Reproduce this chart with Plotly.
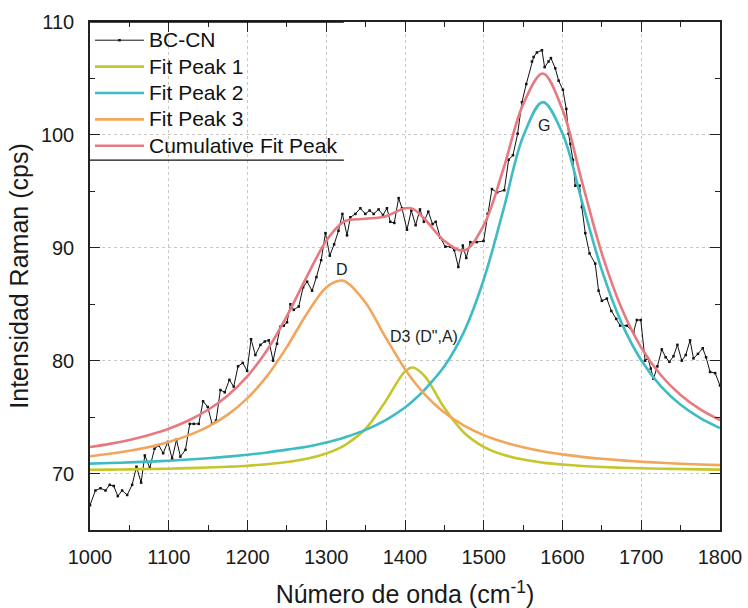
import plotly.graph_objects as go

# ---- Measured Raman spectrum of BC-CN ----
wavenumber = [1000.0, 1006.9, 1013.3, 1019.7, 1025.0, 1030.2, 1035.3, 1040.8, 1047.2, 1053.5,
              1059.0, 1064.9, 1069.6, 1075.9, 1081.9, 1087.4, 1092.9, 1098.8, 1104.3, 1109.8,
              1114.8, 1121.2, 1126.7, 1131.8, 1138.1, 1143.6, 1149.5, 1155.0, 1160.1, 1165.6,
              1171.1, 1177.0, 1182.5, 1188.0, 1194.0, 1199.5, 1204.5, 1210.0, 1216.4, 1221.9,
              1227.0, 1232.5, 1237.5, 1241.8, 1246.0, 1250.2, 1254.5, 1258.7, 1265.1, 1270.6,
              1275.7, 1282.0, 1287.5, 1293.5, 1299.0, 1304.5, 1310.0, 1315.5, 1320.5, 1326.4,
              1330.6, 1337.0, 1343.3, 1349.6, 1355.1, 1360.2, 1366.5, 1372.0, 1377.1, 1381.3,
              1386.4, 1391.9, 1396.2, 1402.5, 1408.0, 1413.5, 1419.0, 1424.0, 1429.6, 1435.0,
              1439.0, 1444.8, 1451.2, 1457.5, 1462.6, 1467.7, 1473.4, 1477.8, 1482.9, 1491.0,
              1499.8, 1504.9, 1510.4, 1516.8, 1526.1, 1531.6, 1537.1, 1543.0, 1548.5, 1554.0,
              1561.2, 1563.3, 1567.5, 1573.9, 1577.3, 1582.3, 1585.3, 1590.8, 1595.1, 1600.5,
              1604.8, 1607.7, 1610.0, 1613.2, 1616.2, 1621.7, 1624.6, 1628.9, 1634.3, 1641.5,
              1645.8, 1650.0, 1656.3, 1662.0, 1668.2, 1673.2, 1681.7, 1690.1, 1694.4, 1699.4,
              1704.9, 1708.5, 1712.1, 1715.5, 1720.5, 1726.1, 1731.0, 1735.8, 1741.0, 1745.9,
              1751.5, 1756.5, 1762.0, 1766.3, 1772.0, 1778.1, 1782.3, 1787.4, 1793.8, 1800.0]
intensity = [67.2, 68.5, 68.7, 68.5, 69.0, 68.9, 68.0, 68.5, 68.1, 69.0,
             70.6, 69.2, 71.6, 70.5, 72.2, 72.5, 71.8, 72.8, 71.3, 73.0,
             71.5, 72.1, 74.4, 74.4, 74.4, 76.4, 75.9, 74.4, 74.7, 77.4,
             77.2, 78.3, 77.7, 79.5, 79.8, 79.1, 81.9, 80.5, 81.4, 81.7,
             81.8, 80.0, 81.5, 83.0, 83.1, 83.4, 85.0, 84.5, 84.8, 86.5,
             87.0, 86.2, 87.4, 88.9, 91.3, 89.3, 90.3, 91.5, 93.0, 91.1,
             92.7, 93.0, 93.5, 93.0, 93.3, 93.0, 93.4, 92.9, 93.5, 92.3,
             92.2, 94.4, 93.5, 91.6, 93.3, 92.0, 93.4, 92.3, 93.2, 92.1,
             92.3, 90.9, 90.1, 90.1, 89.8, 88.3, 90.2, 89.1, 90.5, 90.5,
             90.6, 93.0, 95.2, 94.9, 95.1, 97.8, 98.2, 100.1, 102.9, 104.5,
             106.5, 106.9, 107.3, 107.5, 106.0, 106.5, 106.8, 105.9, 104.8, 104.0,
             102.3, 100.1, 99.2, 97.8, 95.5, 95.5, 93.6, 91.3, 89.5, 88.6,
             86.2, 85.3, 85.5, 84.4, 83.7, 83.1, 83.1, 82.5, 83.6, 83.6,
             80.0, 80.2, 79.3, 78.4, 79.5, 81.0, 80.3, 79.9, 80.4, 81.4,
             80.0, 80.5, 81.8, 80.2, 80.6, 81.1, 80.3, 79.0, 78.9, 77.8]

# ---- Fitted components on a common wavenumber grid ----
fit_x = [1000, 1025, 1050, 1075, 1100, 1125, 1150, 1175, 1200, 1225,
         1250, 1275, 1300, 1318, 1325, 1350, 1375, 1400, 1410, 1425,
         1450, 1475, 1500, 1525, 1550, 1575, 1600, 1625, 1650, 1675,
         1700, 1725, 1750, 1775, 1800]
fit_peak1 = [70.34, 70.35, 70.37, 70.40, 70.43, 70.48, 70.53, 70.60, 70.69, 70.83,
             71.02, 71.31, 71.78, 72.30, 72.57, 73.97, 76.37, 79.05, 79.40, 78.64,
             75.81, 73.62, 72.37, 71.66, 71.24, 70.97, 70.80, 70.67, 70.58, 70.52,
             70.47, 70.43, 70.40, 70.37, 70.35]
fit_peak2 = [70.88, 70.93, 70.99, 71.06, 71.14, 71.24, 71.36, 71.50, 71.67, 71.87,
             72.12, 72.37, 72.75, 73.09, 73.24, 73.87, 74.71, 75.85, 76.42, 77.44,
             79.50, 82.57, 87.19, 93.38, 99.85, 102.90, 100.12, 94.03, 88.00, 83.35,
             80.04, 77.72, 76.09, 74.91, 74.03]
fit_peak3 = [71.53, 71.75, 72.02, 72.36, 72.80, 73.38, 74.16, 75.22, 76.68, 78.65,
             81.21, 84.12, 86.49, 87.10, 86.99, 85.13, 82.10, 79.25, 78.28, 77.02,
             75.40, 74.24, 73.40, 72.79, 72.33, 71.97, 71.70, 71.48, 71.31, 71.17,
             71.05, 70.96, 70.87, 70.80, 70.75]
cumulative = [72.35, 72.63, 72.98, 73.42, 73.97, 74.70, 75.65, 76.92, 78.64, 80.95,
              83.95, 87.40, 90.62, 92.09, 92.40, 92.57, 92.78, 93.50, 93.45, 92.55,
              90.60, 89.75, 92.00, 97.00, 102.70, 105.44, 102.22, 95.78, 89.49, 84.64,
              81.16, 78.71, 76.96, 75.68, 74.73]

# ---- Band labels ----
band_names = ["D", 'D3 (D",A)', "G"]
band_x = [1320, 1424, 1576]
band_y = [88.1, 82.1, 100.8]

series_names = ["BC-CN", "Fit Peak 1", "Fit Peak 2", "Fit Peak 3", "Cumulative Fit Peak"]

FONT = "Liberation Sans, Arial, sans-serif"


def legend_label(text):
    # legend rows are spaced by the legend font size; the label itself is drawn larger
    return '<span style="font-size:21px">' + text + "</span>"


fig = go.Figure()
fig.add_trace(go.Scatter(
    x=wavenumber, y=intensity, name=legend_label(series_names[0]), mode="lines+markers",
    line=dict(color="#111111", width=1),
    marker=dict(symbol="square", size=2.5, color="#111111"),
))
fig.add_trace(go.Scatter(
    x=fit_x, y=fit_peak1, name=legend_label(series_names[1]), mode="lines",
    line=dict(color="#C5C62C", width=2.6, shape="spline"),
))
fig.add_trace(go.Scatter(
    x=fit_x, y=fit_peak2, name=legend_label(series_names[2]), mode="lines",
    line=dict(color="#3DBCC3", width=2.6, shape="spline"),
))
fig.add_trace(go.Scatter(
    x=fit_x, y=fit_peak3, name=legend_label(series_names[3]), mode="lines",
    line=dict(color="#F1A65B", width=2.6, shape="spline"),
))
fig.add_trace(go.Scatter(
    x=fit_x, y=cumulative, name=legend_label(series_names[4]), mode="lines",
    line=dict(color="#E77A80", width=2.6, shape="spline"),
))

for name, bx, by in zip(band_names, band_x, band_y):
    fig.add_annotation(x=bx, y=by, text=name, showarrow=False,
                       font=dict(family=FONT, size=16, color="#222222"))

axis_common = dict(
    showline=True, linecolor="#222222", linewidth=1.5, mirror="allticks",
    ticks="inside", ticklen=10, tickwidth=1.2, tickcolor="#222222",
    showgrid=True, gridcolor="#C8C8C8", gridwidth=1, griddash="dot",
    zeroline=False, automargin=False,
    tickfont=dict(family=FONT, size=20, color="#1A1A1A"),
)

fig.update_xaxes(
    range=[1000, 1800], dtick=100, tick0=1000,
    minor=dict(dtick=50, ticks="inside", ticklen=5, tickcolor="#222222", showgrid=False),
    title=dict(text="Número de onda (cm<sup>-1</sup>)",
               font=dict(family=FONT, size=25, color="#1A1A1A"), standoff=20),
    ticklabelstandoff=8,
    **axis_common,
)
fig.update_yaxes(
    range=[65, 110], dtick=10, tick0=70,
    minor=dict(dtick=5, ticks="inside", ticklen=5, tickcolor="#222222", showgrid=False),
    title=dict(text="Intensidad Raman (cps)",
               font=dict(family=FONT, size=25, color="#1A1A1A"), standoff=5),
    ticklabelstandoff=10,
    **axis_common,
)

# legend panel: white backing over the grid, ruled above and below
legend_right = 0.403   # fraction of plot width
legend_bottom = 0.728  # fraction of plot height
fig.add_shape(type="rect", xref="paper", yref="paper",
              x0=0, x1=legend_right, y0=legend_bottom, y1=1,
              fillcolor="white", line=dict(width=0), layer="between")
fig.add_shape(type="line", xref="paper", yref="paper",
              x0=0, x1=legend_right, y0=legend_bottom, y1=legend_bottom,
              line=dict(color="#111111", width=1.3), layer="above")
fig.add_shape(type="line", xref="paper", yref="paper",
              x0=0, x1=legend_right, y0=1, y1=1,
              line=dict(color="#111111", width=1.5), layer="above")

fig.update_layout(
    width=748, height=608,
    margin=dict(l=90, r=28, t=22, b=78),
    paper_bgcolor="white", plot_bgcolor="white",
    showlegend=True,
    legend=dict(
        x=0, y=1, xanchor="left", yanchor="top",
        bgcolor="rgba(0,0,0,0)", borderwidth=0,
        font=dict(family=FONT, size=18, color="#111111"),
        itemwidth=49, tracegroupgap=0,
    ),
)

fig.write_html("out.html")
